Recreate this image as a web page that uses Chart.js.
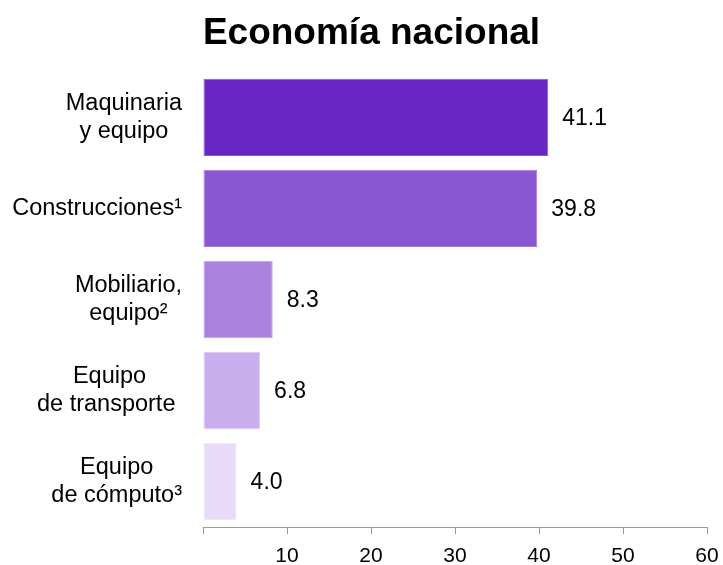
<!DOCTYPE html>
<html>
<head>
<meta charset="utf-8">
<script src="https://cdn.jsdelivr.net/npm/chart.js@4"></script>
<style>
  html, body { margin: 0; padding: 0; background: #fff; }
  #wrap { width: 723px; height: 565px; }
</style>
</head>
<body>
<div id="wrap"><canvas id="chart"></canvas></div>
<script>
"use strict";

const categories = [
  ["Maquinaria", "y equipo"],
  ["Construcciones¹"],
  ["Mobiliario,", "equipo²"],
  ["Equipo", "de transporte "],
  ["Equipo", "de cómputo³"]
];
const values = [41.1, 39.8, 8.3, 6.8, 4.0];
const barColors = ["#6a26c4", "#8a57d3", "#ac82e1", "#c9afed", "#e8daf9"];
const edgeColors = ["#8a5ad6", "#a47ce0", "#c2a3ea", "#dccaf4", "#f1e8fc"];
const xTicks = [0, 10, 20, 30, 40, 50, 60];
const titleText = "Economía nacional";

const FONT = "'Liberation Sans', Arial, sans-serif";

// category labels: each block right-aligned, lines centered inside it
const yLabels = {
  id: "yLabels",
  afterDraw(chart) {
    const ctx = chart.ctx;
    const yScale = chart.scales.y;
    const rightEdge = chart.chartArea.left - 21;
    const lineH = 27.5;
    ctx.save();
    ctx.font = "23.5px " + FONT;
    ctx.fillStyle = "#000";
    ctx.textAlign = "center";
    ctx.textBaseline = "middle";
    categories.forEach((lines, i) => {
      const yc = yScale.getPixelForTick(i);
      let widest = 0;
      lines.forEach(l => { widest = Math.max(widest, ctx.measureText(l).width); });
      const cx = rightEdge - widest / 2;
      const top = yc - (lines.length - 1) * lineH / 2;
      lines.forEach((l, j) => {
        ctx.fillText(l, cx, top + j * lineH);
      });
    });
    ctx.restore();
  }
};

// value labels at the end of each bar
const valueLabels = {
  id: "valueLabels",
  afterDatasetsDraw(chart) {
    const ctx = chart.ctx;
    const meta = chart.getDatasetMeta(0);
    ctx.save();
    ctx.font = "23px " + FONT;
    ctx.fillStyle = "#000";
    ctx.textAlign = "left";
    ctx.textBaseline = "middle";
    meta.data.forEach((bar, i) => {
      ctx.fillText(values[i].toFixed(1), bar.x + 14, bar.y + 1);
    });
    ctx.restore();
  }
};

new Chart(document.getElementById("chart"), {
  type: "bar",
  data: {
    labels: categories,
    datasets: [{
      data: values,
      backgroundColor: barColors,
      borderColor: edgeColors,
      borderWidth: 1,
      borderSkipped: false,
      categoryPercentage: 1,
      barPercentage: 0.85
    }]
  },
  options: {
    indexAxis: "y",
    responsive: true,
    maintainAspectRatio: false,
    animation: false,
    layout: { padding: { left: 36, right: 16, top: 12, bottom: 0 } },
    plugins: {
      legend: { display: false },
      tooltip: { enabled: false },
      title: {
        display: true,
        text: titleText,
        color: "#000",
        font: { family: FONT, size: 37, weight: "bold", lineHeight: 1.2 },
        padding: { top: 0, bottom: 15.5 }
      }
    },
    scales: {
      x: {
        min: 0,
        max: 60,
        afterBuildTicks(scale) {
          scale.ticks = xTicks.map(v => ({ value: v }));
        },
        afterFit(scale) {
          scale.height = 38;
          scale.paddingLeft = 0;
          scale.paddingRight = 0;
        },
        border: { display: true, color: "#9a9a9a", width: 1 },
        grid: { drawOnChartArea: false, drawTicks: true, tickLength: 7, color: "#9a9a9a" },
        ticks: {
          color: "#000",
          padding: 10,
          font: { family: FONT, size: 21 },
          maxRotation: 0,
          callback: (v) => (v === 0 ? "" : v)
        }
      },
      y: {
        afterFit(scale) { scale.width = 167; },
        border: { display: false },
        grid: { display: false },
        ticks: { display: false }
      }
    }
  },
  plugins: [yLabels, valueLabels]
});
</script>
</body>
</html>
